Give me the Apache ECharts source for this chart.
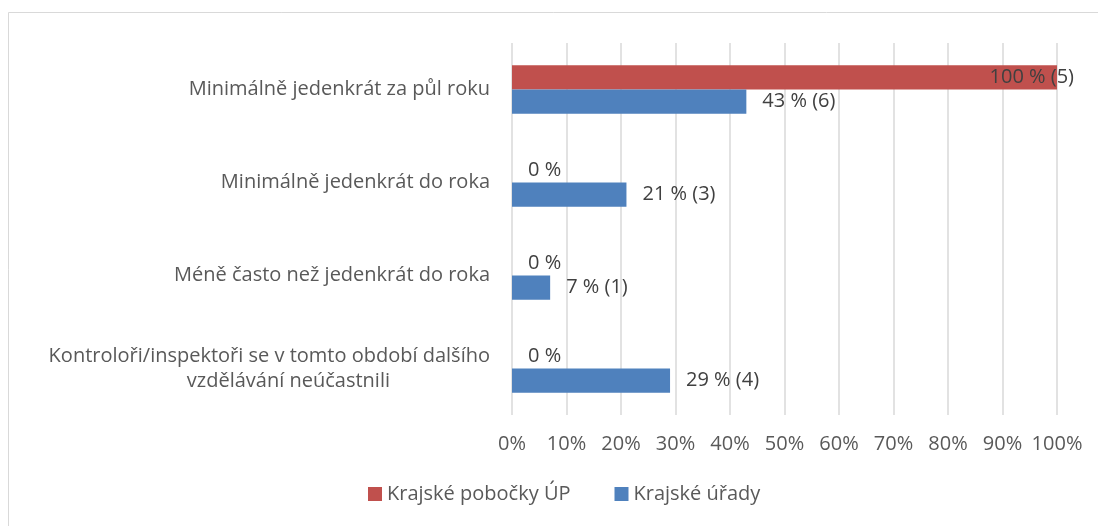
<!DOCTYPE html>
<html lang="cs">
<head>
    <meta charset="utf-8" />
    <script src="https://cdn.jsdelivr.net/npm/echarts@6/dist/echarts.min.js"></script>
    <title>vzdelavani</title>
    <style>
        html, body { margin: 0; padding: 0; background: #fff; }
    </style>
</head>

<body>
<div id="main" style="width:1098px; height:526px;"></div>
<script type="text/javascript">
    // data
    let categories = [
        'Minimálně jedenkrát za půl roku',
        'Minimálně jedenkrát do roka',
        'Méně často než jedenkrát do roka',
        'Kontroloři/inspektoři se v tomto období dalšího\nvzdělávání neúčastnili'
    ];
    let seriesNames = ['Krajské pobočky ÚP', 'Krajské úřady'];
    let pobockyPct = [100, 0, 0, 0];
    let pobockyN = [5, 0, 0, 0];
    let uradyPct = [43, 21, 7, 29];
    let uradyN = [6, 3, 1, 4];
    let xTicks = [0, 10, 20, 30, 40, 50, 60, 70, 80, 90, 100];

    let font = 'Open Sans';
    let fs = 20;
    let textColor = '#595959';

    function labelText(pct, counts) {
        return function (p) {
            let n = counts[p.dataIndex];
            return n > 0 ? pct[p.dataIndex] + ' % (' + n + ')' : pct[p.dataIndex] + ' %';
        };
    }

    // the 100 % label sits over the bar end, like the original
    let pobockyData = pobockyPct.map(function (v) {
        if (v === 100) {
            return { value: v, label: { position: 'insideRight', offset: [33, 0] } };
        }
        return v;
    });

    let myChart = echarts.init(document.getElementById('main'));

    option = {
        animation: false,
        backgroundColor: '#ffffff',
        graphic: [{
            type: 'rect',
            shape: { x: 8.5, y: 12.5, width: 1200, height: 600 },
            style: { fill: 'none', stroke: '#d9d9d9', lineWidth: 1 },
            silent: true
        }],
        grid: {
            left: 512,
            right: 41,
            top: 43,
            bottom: 111
        },
        legend: {
            data: seriesNames,
            bottom: 17,
            left: 363,
            itemWidth: 14,
            itemHeight: 14,
            itemGap: 44,
            icon: 'rect',
            textStyle: { fontFamily: font, fontSize: fs, color: textColor }
        },
        xAxis: {
            type: 'value',
            min: 0,
            max: 100,
            interval: 10,
            axisLine: { show: false },
            axisTick: { show: false },
            splitLine: { lineStyle: { color: '#d9d9d9', width: 1.5 } },
            axisLabel: {
                margin: 19,
                fontFamily: font,
                fontSize: fs,
                color: textColor,
                formatter: function (v) {
                    return xTicks.indexOf(v) >= 0 ? v + '%' : '';
                }
            }
        },
        yAxis: {
            type: 'category',
            inverse: true,
            data: categories,
            axisLine: { show: false },
            axisTick: { show: false },
            axisLabel: {
                margin: 22,
                fontFamily: font,
                fontSize: fs,
                color: textColor,
                lineHeight: 25,
                formatter: function (v) {
                    let parts = v.split('\n');
                    if (parts.length > 1) {
                        return '{a|' + parts[0] + '}\n{b|' + parts[1] + '}';
                    }
                    return v;
                },
                rich: {
                    a: { fontFamily: font, fontSize: fs, color: textColor, lineHeight: 25 },
                    b: { fontFamily: font, fontSize: fs, color: textColor, lineHeight: 25, padding: [0, 100, 0, 0] }
                }
            }
        },
        series: [{
            name: seriesNames[0],
            type: 'bar',
            data: pobockyData,
            barGap: 0,
            barCategoryGap: '48%',
            itemStyle: { color: '#c0504d' },
            label: {
                show: true,
                position: 'right',
                distance: 16,
                fontFamily: font,
                fontSize: fs,
                color: '#404040',
                formatter: labelText(pobockyPct, pobockyN)
            }
        }, {
            name: seriesNames[1],
            type: 'bar',
            data: uradyPct,
            barGap: 0,
            barCategoryGap: '48%',
            itemStyle: { color: '#4f81bd' },
            label: {
                show: true,
                position: 'right',
                distance: 16,
                fontFamily: font,
                fontSize: fs,
                color: '#404040',
                formatter: labelText(uradyPct, uradyN)
            }
        }]
    };
    myChart.setOption(option);
</script>
</body>
</html>
